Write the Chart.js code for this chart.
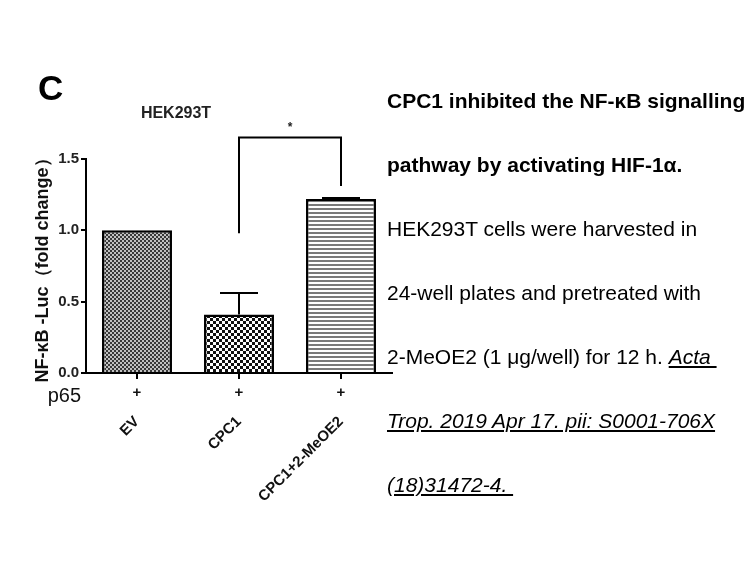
<!DOCTYPE html>
<html><head><meta charset="utf-8">
<script src="https://cdn.jsdelivr.net/npm/chart.js@4/dist/chart.umd.min.js"></script>
<style>
html,body{margin:0;padding:0;background:#fff;}
#wrap{position:relative;width:756px;height:567px;overflow:hidden;background:#fff;}
#c{position:absolute;left:0;top:0;}
.t{position:absolute;left:387px;top:69px;font-family:"Liberation Sans",Arial,sans-serif;font-size:21px;line-height:64px;color:#000;white-space:nowrap;}
.b{font-weight:bold;}
.cite{font-style:italic;text-decoration:underline;}
</style></head>
<body>
<div id="wrap">
<canvas id="c" width="756" height="567"></canvas>
<div class="t">
<span class="b">CPC1 inhibited the NF-κB signalling</span><br>
<span class="b">pathway by activating HIF-1α.</span><br>
HEK293T cells were harvested in<br>
24-well plates and pretreated with<br>
2-MeOE2 (1 μg/well) for 12 h. <span class="cite">Acta&nbsp;</span><br>
<span class="cite">Trop. 2019 Apr 17. pii: S0001-706X</span><br>
<span class="cite">(18)31472-4.&nbsp;</span>
</div>
</div>
<script>
// ---- data ----
const categories = ['EV', 'CPC1', 'CPC1+2-MeOE2'];
const p65Row = ['+', '+', '+'];
const values = [1.0, 0.41, 1.22];
const errors = [0, 0.15, 0.007];
const yTicks = [0, 0.5, 1.0, 1.5];
const sigPair = [1, 2];
const sigBottoms = [0.98, 1.31];
const sigTop = 1.65;
const sigLabel = '*';
const panelLetter = 'C';
const chartTitle = 'HEK293T';
const yTitle = 'NF-κB -Luc（fold change）';
const rowLabel = 'p65';

const FONT = '"Liberation Sans", Arial, sans-serif';

function makePattern(size, draw){
  const c = document.createElement('canvas');
  c.width = size[0]; c.height = size[1];
  const g = c.getContext('2d');
  draw(g);
  return document.getElementById('c').getContext('2d').createPattern(c, 'repeat');
}
const patFine = makePattern([4,4], g=>{
  g.fillStyle='#c0c0c0'; g.fillRect(0,0,4,4);
  g.fillStyle='#383838'; g.fillRect(0,0,2,2); g.fillRect(2,2,2,2);
});
const patCoarse = makePattern([6,6], g=>{
  g.fillStyle='#ffffff'; g.fillRect(0,0,6,6);
  g.fillStyle='#111111'; g.fillRect(0,0,3,3); g.fillRect(3,3,3,3);
});
const patLines = makePattern([4,4], g=>{
  g.fillStyle='#ffffff'; g.fillRect(0,0,4,4);
  g.fillStyle='#7a7a7a'; g.fillRect(0,0,4,2);
});

const annot = {
  id: 'annot',
  afterDatasetsDraw(chart){
    const {ctx, scales:{x, y}} = chart;
    ctx.save();
    ctx.strokeStyle = '#000';
    ctx.lineWidth = 2;
    // error bars
    values.forEach((v, i) => {
      const e = errors[i];
      if (!e) return;
      const px = x.getPixelForValue(i);
      const y0 = y.getPixelForValue(v), y1 = y.getPixelForValue(v + e);
      ctx.beginPath();
      ctx.moveTo(px, y0); ctx.lineTo(px, y1);
      ctx.moveTo(px - 19, y1); ctx.lineTo(px + 19, y1);
      ctx.stroke();
    });
    // significance bracket
    const xa = x.getPixelForValue(sigPair[0]), xb = x.getPixelForValue(sigPair[1]);
    const yt = y.getPixelForValue(sigTop);
    ctx.beginPath();
    ctx.moveTo(xa, y.getPixelForValue(sigBottoms[0]));
    ctx.lineTo(xa, yt); ctx.lineTo(xb, yt);
    ctx.lineTo(xb, y.getPixelForValue(sigBottoms[1]));
    ctx.stroke();
    ctx.fillStyle = '#222';
    ctx.font = 'bold 12px ' + FONT;
    ctx.textAlign = 'center'; ctx.textBaseline = 'middle';
    ctx.fillText(sigLabel, (xa + xb) / 2, yt - 10);
    // p65 row
    ctx.fillStyle = '#111';
    ctx.font = 'bold 15px ' + FONT;
    p65Row.forEach((s, i) => ctx.fillText(s, x.getPixelForValue(i), 393));
    ctx.font = '20px ' + FONT;
    ctx.textAlign = 'right'; ctx.textBaseline = 'alphabetic';
    ctx.fillText(rowLabel, 81, 402);
    // panel letter and title
    ctx.fillStyle = '#000';
    ctx.textAlign = 'left';
    ctx.font = 'bold 35px ' + FONT;
    ctx.fillText(panelLetter, 38, 100);
    ctx.fillStyle = '#222';
    ctx.textAlign = 'center'; ctx.textBaseline = 'middle';
    ctx.font = 'bold 16px ' + FONT;
    ctx.fillText(chartTitle, 176, 114);
    ctx.restore();
  }
};

new Chart(document.getElementById('c'), {
  type: 'bar',
  data: {
    labels: categories,
    datasets: [{
      data: values,
      backgroundColor: [patFine, patCoarse, patLines],
      borderColor: '#000',
      borderWidth: 2.5,
      borderSkipped: 'bottom',
      barPercentage: 0.686,
      categoryPercentage: 1.0
    }]
  },
  options: {
    responsive: false,
    animation: false,
    devicePixelRatio: 1,
    layout: { padding: { left: 0, top: 159, right: 364, bottom: 0 } },
    plugins: { legend: { display: false }, tooltip: { enabled: false } },
    scales: {
      x: {
        offset: true,
        afterFit(s){ s.height = 194; },
        grid: { offset: false, drawOnChartArea: false, drawTicks: true, tickLength: 6, color: '#000', lineWidth: 2 },
        border: { display: true, color: '#000', width: 2 },
        ticks: { minRotation: 45, maxRotation: 45, padding: 34, color: '#111', font: { family: FONT, size: 15, weight: 'bold' } }
      },
      y: {
        min: 0, max: 1.5,
        afterFit(s){ s.width = 86; },
        afterBuildTicks(s){ s.ticks = yTicks.map(v => ({ value: v })); },
        grid: { drawOnChartArea: false, drawTicks: true, tickLength: 5, color: '#000', lineWidth: 2 },
        border: { display: true, color: '#000', width: 2 },
        ticks: { padding: 2, color: '#222', font: { family: FONT, size: 15, weight: 'bold' }, callback: v => v.toFixed(1) },
        title: { display: true, text: yTitle, color: '#111', padding: { top: 32, bottom: 0 }, font: { family: FONT, size: 18, weight: 'bold' } }
      }
    }
  },
  plugins: [annot]
});
</script>
</body></html>
